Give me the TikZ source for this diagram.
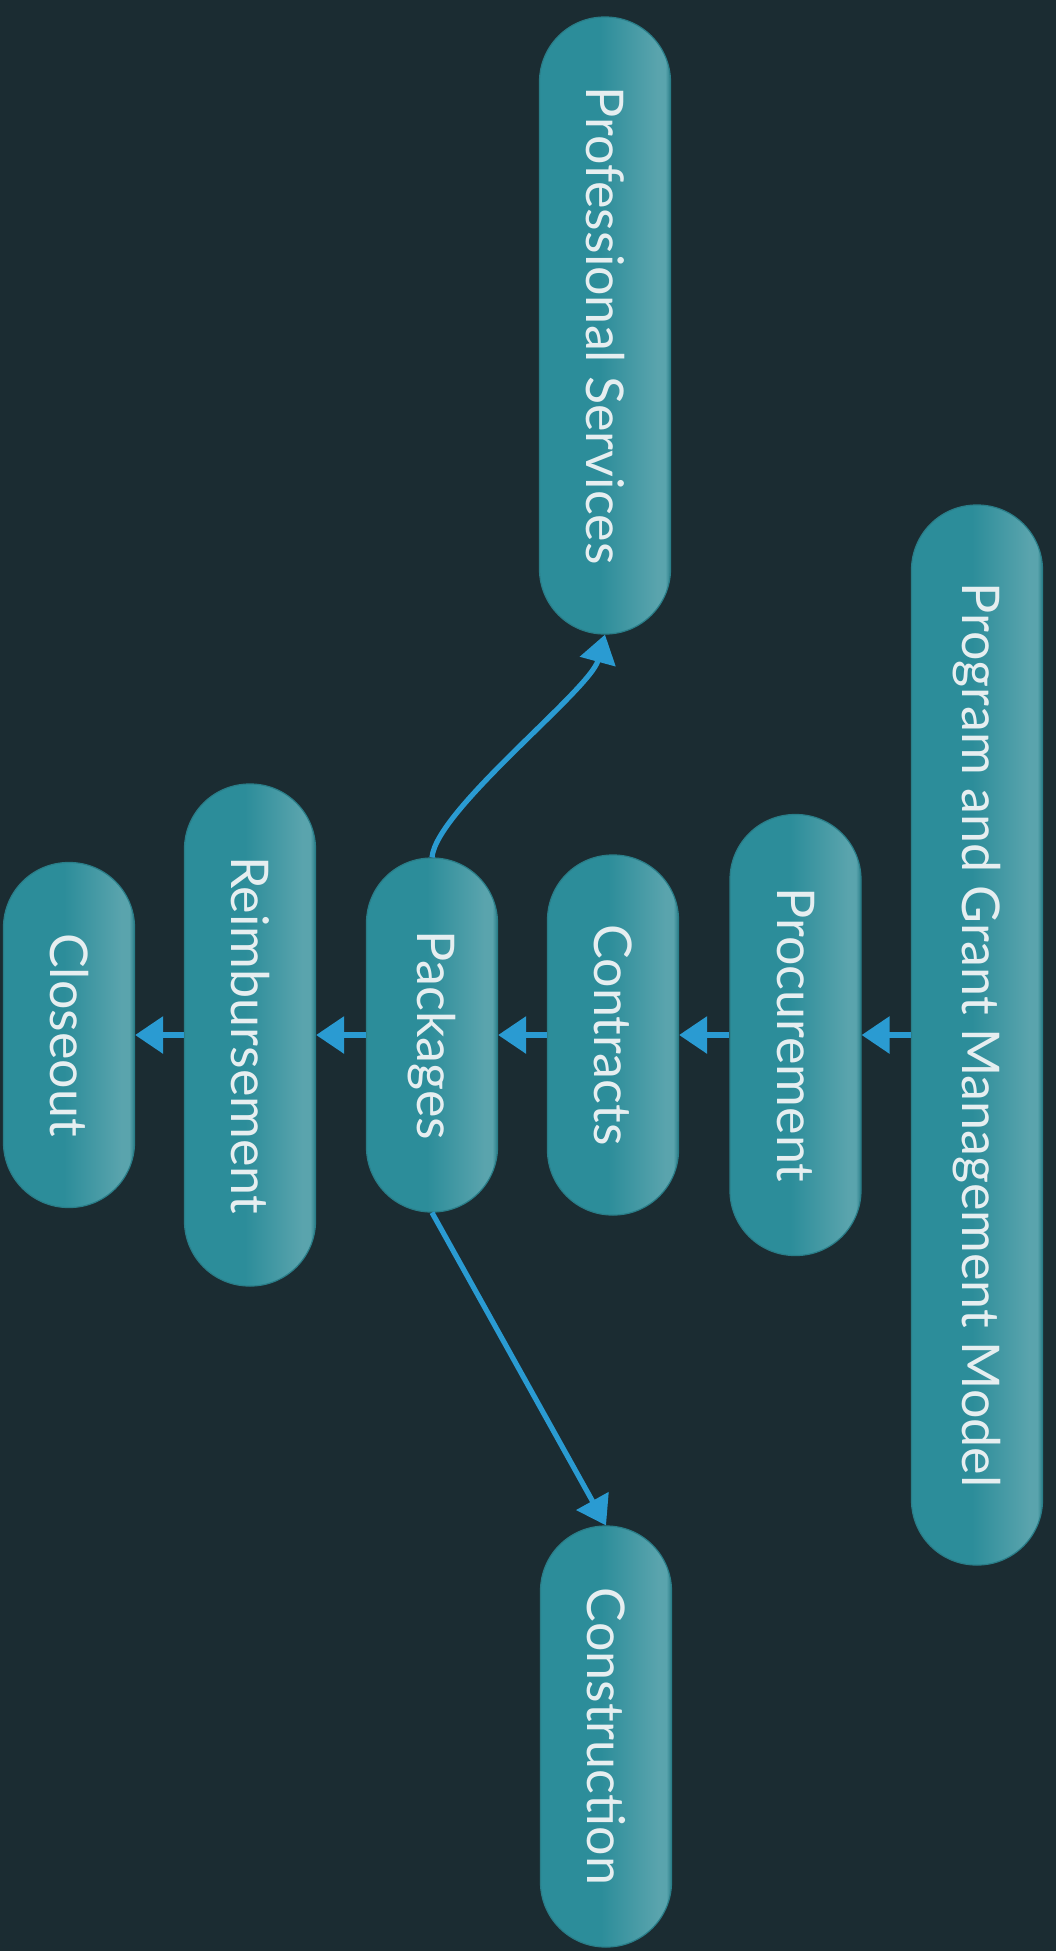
\documentclass[tikz,border=0pt]{standalone}
\usepackage{fontspec}
\setmainfont{Lato}
\usepackage{graphicx}
\usetikzlibrary{arrows.meta}
\definecolor{bg}{HTML}{1B2C32}
\definecolor{tealA}{HTML}{2C8D9A}
\definecolor{tealB}{HTML}{5AA4AD}
\definecolor{rim}{HTML}{2A7E89}
\definecolor{arr}{HTML}{2A9BD2}
\definecolor{txt}{HTML}{E6EEF0}
\pgfdeclarehorizontalshading{pillshade}{100bp}{color(0bp)=(tealA); color(25bp)=(tealA); color(48bp)=(tealA); color(70bp)=(tealB); color(73bp)=(tealB); color(75bp)=(rim); color(100bp)=(rim)}
\begin{document}
\begin{tikzpicture}[x=0.5pt,y=-0.5pt,
  pill/.style={rectangle, rounded corners=32.5pt, minimum width=65.5pt, inner sep=0pt,
    draw=rim, line width=0.6pt, shading=pillshade, text=txt,
    font=\fontsize{26pt}{30pt}\selectfont},
  link/.style={draw=arr, line width=3pt, -{Triangle[length=14pt,width=18pt]}}]
\fill[bg] (0,0) rectangle (1056,1951);
\useasboundingbox (0,0) rectangle (1056,1951);
\node[pill, minimum height=530pt] (pg) at (977,1035) {\rotatebox{-90}{Program and Grant Management Model}};
\node[pill, minimum height=220.5pt] (pr) at (795.5,1035) {\rotatebox{-90}{Procurement}};
\node[pill, minimum height=180pt] (ct) at (613,1035) {\rotatebox{-90}{Contracts}};
\node[pill, minimum height=177pt] (pk) at (432,1035) {\rotatebox{-90}{Packages}};
\node[pill, minimum height=251pt] (rb) at (250,1035) {\rotatebox{-90}{Reimbursement}};
\node[pill, minimum height=172.5pt] (cl) at (69,1035) {\rotatebox{-90}{Closeout}};
\node[pill, minimum height=308.5pt] (ps) at (605,325.5) {\rotatebox{-90}{Professional Services}};
\node[pill, minimum height=210.5pt] (cn) at (606,1736.5) {\rotatebox{-90}{Construction}};
\draw[link] (pg.west) -- (pr.east);
\draw[link] (pr.west) -- (ct.east);
\draw[link] (ct.west) -- (pk.east);
\draw[link] (pk.west) -- (rb.east);
\draw[link] (rb.west) -- (cl.east);
\draw[link, line width=2.6pt] (pk.north) .. controls (436,810) and (590,690) .. (ps.south);
\draw[link, line width=2.6pt] (pk.south) -- (cn.north);
\end{tikzpicture}
\end{document}
